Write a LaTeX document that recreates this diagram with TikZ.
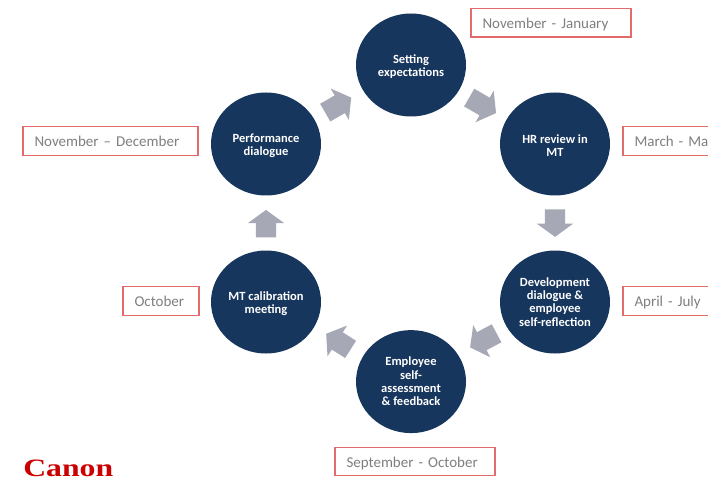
\documentclass[tikz,border=0pt]{standalone}
\usepackage{fontspec}
\setmainfont{Carlito}
\newfontfamily\logofont{Liberation Serif}
\usetikzlibrary{shapes.geometric,shapes.arrows}
\definecolor{navy}{HTML}{17365D}
\definecolor{arrowgrey}{HTML}{A6A9B5}
\definecolor{boxred}{HTML}{E26B6B}
\definecolor{labelgrey}{HTML}{7F7F7F}
\definecolor{logored}{HTML}{CC0000}
\newcommand\lowertext{\rule{0pt}{11.5pt}}
\tikzset{
  stage/.style={ellipse,fill=navy,draw=none,inner sep=0pt,minimum width=110pt,minimum height=103pt,
    align=center,text=white,font=\fontsize{12.5}{13.3}\selectfont\bfseries},
  datebox/.style={draw=boxred,line width=1.2pt,fill=white,text=labelgrey,inner xsep=11.5pt,inner ysep=0pt,
    text width=#1,align=left,minimum height=28.5pt,text height=13pt,text depth=2pt,
    font=\fontsize{15}{16}\selectfont},
  flow/.style={single arrow,fill=arrowgrey,draw=none,inner sep=0pt,text height=20pt,text depth=0pt,
    single arrow head extend=8pt,single arrow tip angle=108,single arrow head indent=0pt,anchor=center},
}
\begin{document}
\begin{tikzpicture}[x=1pt,y=1pt]
\useasboundingbox (0,0) rectangle (708,477);
\clip (0,0) rectangle (708,477);
\fill[white] (0,0) rectangle (708,477);
% stages
\node[stage] (setting) at (411,412) {\lowertext Setting\\expectations};
\node[stage] (hr) at (555,333) {\lowertext HR review in\\MT};
\node[stage] (dev) at (555,175) {Development\\dialogue \&\\employee\\self-reflection};
\node[stage] (emp) at (411,95.4) {Employee\\self-\\assessment\\\& feedback};
\node[stage] (mt) at (266,175) {\lowertext MT calibration\\meeting};
\node[stage] (perf) at (266,333) {\lowertext Performance\\dialogue};
% flow arrows
\node[flow,minimum height=31pt,rotate=-30] (a1) at (479.4,373.5) {};
\node[flow,minimum height=27.5pt,rotate=-90] (a2) at (555,257.6) {};
\node[flow,minimum height=30pt,rotate=208] (a3) at (486.6,138.4) {};
\node[flow,minimum height=29pt,rotate=147.5] (a4) at (341.5,133.4) {};
\node[flow,minimum height=27.5pt,rotate=90] (a5) at (266,249.6) {};
\node[flow,minimum height=30pt,rotate=30] (a6) at (335,370) {};
% date boxes
\node[datebox=137pt] (d1) at (551,454.2) {November - January};
\node[datebox=100pt] (d2) at (684.5,336) {March - May};
\node[datebox=100pt] (d3) at (684.5,176) {April - July};
\node[datebox=137pt] (d4) at (415,15.5) {September - October};
\node[datebox=53pt] (d5) at (161,176) {October};
\node[datebox=152pt] (d6) at (110.5,336) {November – December};
% logo
\node[anchor=base west,inner sep=0pt,xscale=1.27,text=logored,font=\fontsize{25}{25}\logofont\bfseries] (logo) at (23,0.5) {Canon};
\end{tikzpicture}
\end{document}
